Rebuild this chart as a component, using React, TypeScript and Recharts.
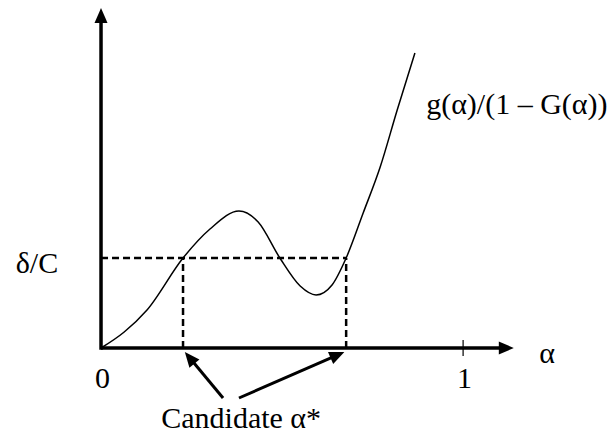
import React from 'react';
import { ComposedChart, Line, XAxis, YAxis, ReferenceLine, ReferenceDot } from 'recharts';

// ---- data ----
const ALPHA = [0, 0.064, 0.127, 0.2265, 0.301, 0.381, 0.434, 0.494, 0.55, 0.594, 0.638, 0.677, 0.724, 0.771, 0.818, 0.867];
const HAZARD = [0, 0.16, 0.38, 0.9, 1.19, 1.37, 1.26, 0.9, 0.62, 0.53, 0.63, 0.9, 1.35, 1.81, 2.38, 2.95];
const DELTA_C = 0.9;
const CANDIDATES = [0.2265, 0.677];
const X_TICKS = [0, 1];
const X_TICK_LABELS = ['0', '1'];
const X_AXIS_END = 1.14;
const Y_AXIS_END = 3.4;
const CURVE_LABEL = 'g(α)/(1 – G(α))';
const Y_LABEL = 'δ/C';
const X_LABEL = 'α';
const CANDIDATE_LABEL = 'Candidate α*';

const data = ALPHA.map((a, i) => ({ a, v: HAZARD[i] }));

const W = 613;
const H = 435;
const X_DOMAIN: [number, number] = [-0.279, 1.414];
const Y_DOMAIN: [number, number] = [-0.87, 3.48];
const FONT = 'Liberation Serif';
const FS = 30;

const arrowShape = (width: number, head: number, headW: number, cap: string = 'butt') => (p: any) => {
  const { x1, y1, x2, y2 } = p;
  const dx = x2 - x1;
  const dy = y2 - y1;
  const len = Math.hypot(dx, dy) || 1;
  const ux = dx / len;
  const uy = dy / len;
  const bx = x2 - ux * head;
  const by = y2 - uy * head;
  const nx = -uy;
  const ny = ux;
  return (
    <g>
      <line x1={x1} y1={y1} x2={bx + ux} y2={by + uy} stroke="#000" strokeWidth={width} strokeLinecap={cap as any} />
      <polygon
        points={`${x2},${y2} ${bx + (nx * headW) / 2},${by + (ny * headW) / 2} ${bx - (nx * headW) / 2},${by - (ny * headW) / 2}`}
        fill="#000"
      />
    </g>
  );
};

const textShape = (txt: string, size: number, anchor: string = 'middle') => (p: any) => (
  <text
    x={p.cx}
    y={p.cy}
    textAnchor={anchor}
    dominantBaseline="central"
    fontFamily={FONT}
    fontSize={size}
    fill="#000"
  >
    {txt}
  </text>
);

export default function App() {
  return (
    <div style={{ position: 'absolute', left: 0, top: 0, background: '#fff' }}>
      <ComposedChart width={W} height={H} data={data} margin={{ top: 0, right: 0, bottom: 0, left: 0 }}>
        <XAxis type="number" dataKey="a" domain={X_DOMAIN} allowDataOverflow hide />
        <YAxis type="number" domain={Y_DOMAIN} allowDataOverflow hide />

        {/* dashed guides */}
        <ReferenceLine
          segment={[{ x: 0, y: DELTA_C }, { x: CANDIDATES[1], y: DELTA_C }]}
          stroke="#000"
          strokeWidth={2.5}
          strokeDasharray="7 4"
        />
        {CANDIDATES.map((c) => (
          <ReferenceLine
            key={'v' + c}
            segment={[{ x: c, y: 0 }, { x: c, y: DELTA_C }]}
            stroke="#000"
            strokeWidth={2.5}
            strokeDasharray="7 4"
          />
        ))}

        {/* axes */}
        <ReferenceLine segment={[{ x: 0, y: 0 }, { x: X_AXIS_END, y: 0 }]} shape={arrowShape(3.5, 15, 13)} />
        <ReferenceLine segment={[{ x: 0, y: 0 }, { x: 0, y: Y_AXIS_END }]} shape={arrowShape(3.5, 15, 13, 'square')} />
        <ReferenceLine
          segment={[{ x: X_TICKS[1], y: 0.08 }, { x: X_TICKS[1], y: -0.08 }]}
          stroke="#000"
          strokeWidth={1.2}
        />

        <Line
          type="monotone"
          dataKey="v"
          stroke="#000"
          strokeWidth={1.5}
          dot={false}
          activeDot={false}
          isAnimationActive={false}
        />

        {/* candidate arrows */}
        <ReferenceLine
          segment={[{ x: 0.337, y: -0.5 }, { x: CANDIDATES[0] + 0.005, y: -0.04 }]}
          shape={arrowShape(3, 15, 13)}
        />
        <ReferenceLine
          segment={[{ x: 0.381, y: -0.5 }, { x: CANDIDATES[1] - 0.005, y: -0.04 }]}
          shape={arrowShape(3, 15, 13)}
        />

        {/* labels */}
        {X_TICKS.map((t, i) => (
          <ReferenceDot key={'t' + t} x={t + 0.004} y={-0.295} r={0} shape={textShape(X_TICK_LABELS[i], FS)} />
        ))}
        <ReferenceDot x={1.232} y={-0.04} r={0} shape={textShape(X_LABEL, FS)} />
        <ReferenceDot x={-0.177} y={0.86} r={0} shape={textShape(Y_LABEL, FS)} />
        <ReferenceDot x={0.387} y={-0.69} r={0} shape={textShape(CANDIDATE_LABEL, FS)} />
        <ReferenceDot x={0.898} y={2.45} r={0} shape={textShape(CURVE_LABEL, FS, 'start')} />
      </ComposedChart>
    </div>
  );
}
